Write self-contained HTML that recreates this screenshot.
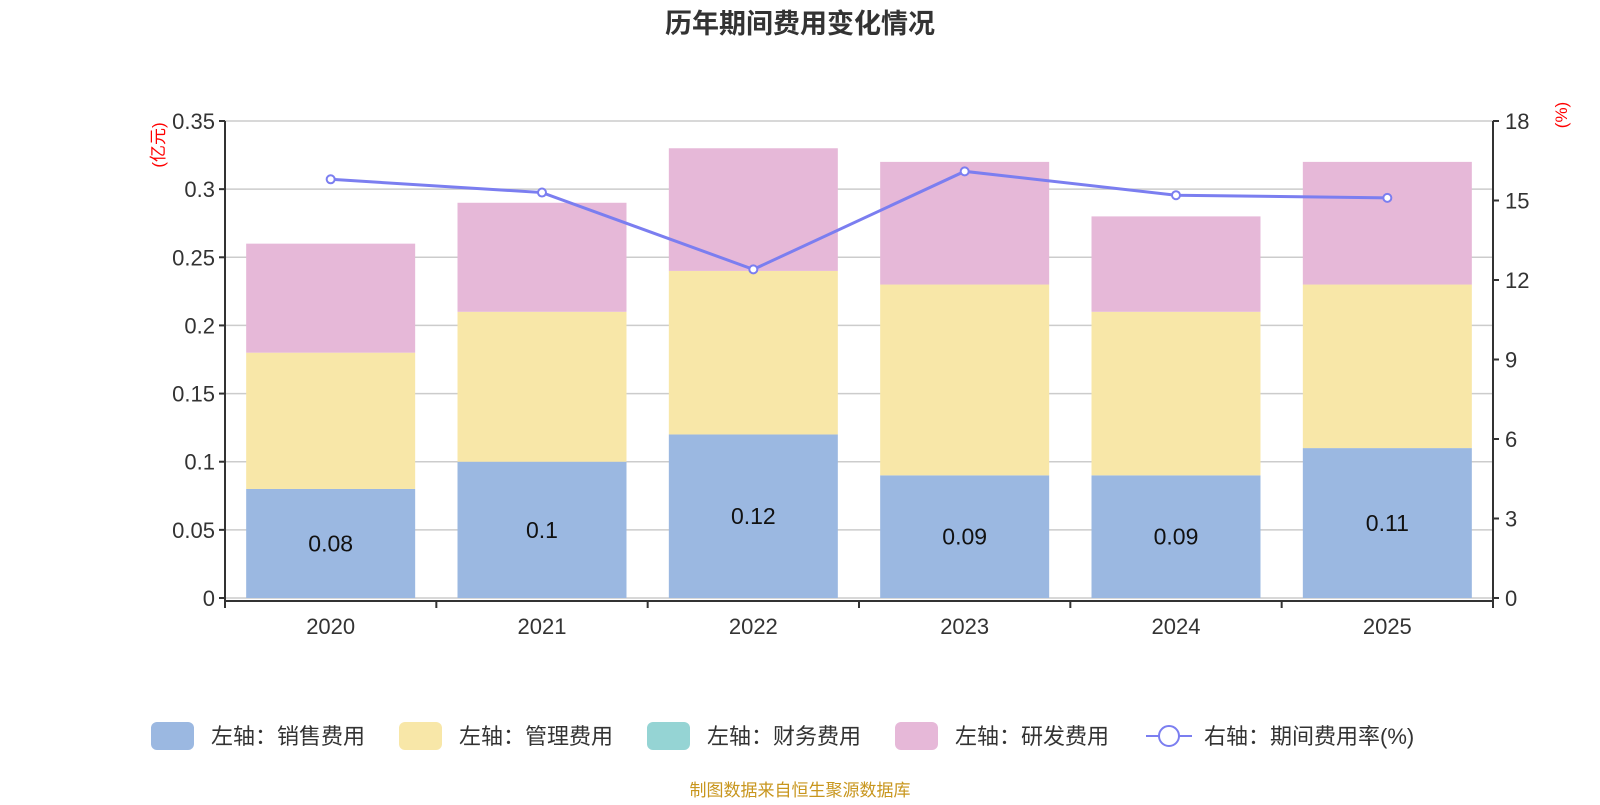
<!DOCTYPE html>
<html><head><meta charset="utf-8">
<style>
body{margin:0;background:#fff;}
svg text{font-family:"Liberation Sans","Noto Sans CJK SC",sans-serif;}
</style></head>
<body>
<svg id="chart" width="1600" height="800" xmlns="http://www.w3.org/2000/svg">
<text x="800" y="33" text-anchor="middle" font-size="27" font-weight="bold" fill="#333">历年期间费用变化情况</text>
<g id="grid"></g>
<g id="bars"></g>
<g id="line"></g>
<g id="axes"></g>
<text x="0" y="0" transform="translate(164,145) rotate(-90)" text-anchor="middle" font-size="17" fill="#f00">(亿元)</text>
<text x="0" y="0" transform="translate(1567,115) rotate(-90)" text-anchor="middle" font-size="17" fill="#f00">(%)</text>
<g id="legend"></g>
<text x="800" y="796" text-anchor="middle" font-size="17" fill="#c8961e">制图数据来自恒生聚源数据库</text>
</svg>
<script>
const categories=["2020","2021","2022","2023","2024","2025"];
const sales=[0.08,0.1,0.12,0.09,0.09,0.11];
const admin=[0.1,0.11,0.12,0.14,0.12,0.12];
const finance=[0,0,0,0,0,0];
const rnd=[0.08,0.08,0.09,0.09,0.07,0.09];
const rate=[15.8,15.3,12.4,16.1,15.2,15.1];
const leftTicks=["0","0.05","0.1","0.15","0.2","0.25","0.3","0.35"];
const rightTicks=["0","3","6","9","12","15","18"];
const NS="http://www.w3.org/2000/svg";
const X0=225,X1=1493,Y0=598,Y1=121;
const yL=v=>Y0-(v/0.35)*(Y0-Y1);
const yR=v=>Y0-(v/18)*(Y0-Y1);
const band=(X1-X0)/categories.length;
const xC=i=>X0+band*(i+0.5);
function mk(tag,attrs,parent){const e=document.createElementNS(NS,tag);for(const k in attrs)e.setAttribute(k,attrs[k]);document.getElementById(parent).appendChild(e);return e;}
leftTicks.forEach(t=>{const y=yL(+t);
 const g=mk('line',{x1:X0,x2:X1,y1:y,y2:y,stroke:'#ccc','stroke-width':1.5},'grid');
 
 
 mk('line',{x1:X0-6,x2:X0,y1:y,y2:y,stroke:'#333','stroke-width':2},'axes');
 const tx=mk('text',{x:X0-10,y:y+8,'text-anchor':'end','font-size':22,fill:'#333'},'axes');tx.textContent=t;
 
 
});
rightTicks.forEach(t=>{const y=yR(+t);
 mk('line',{x1:X1,x2:X1+6,y1:y,y2:y,stroke:'#333','stroke-width':2},'axes');
 const tx=mk('text',{x:X1+12,y:y+8,'font-size':22,fill:'#333'},'axes');tx.textContent=t;
 
 
});
mk('line',{x1:X0,x2:X0,y1:Y1,y2:Y0+3,stroke:'#333','stroke-width':2},'axes');
mk('line',{x1:X1,x2:X1,y1:Y1,y2:Y0+3,stroke:'#333','stroke-width':2},'axes');
mk('line',{x1:X0,x2:X1,y1:Y0+3,y2:Y0+3,stroke:'#333','stroke-width':2},'axes');
for(let i=0;i<=categories.length;i++){mk('line',{x1:X0+band*i,x2:X0+band*i,y1:Y0+3,y2:Y0+10,stroke:'#333','stroke-width':2},'axes');}
const bw=169;
const series=[[sales,'#9bb8e1','bar-sales'],[admin,'#f8e7a8','bar-admin'],[finance,'#95d4d4','bar-finance'],[rnd,'#e6b8d8','bar-rnd']];
categories.forEach((c,i)=>{
 let acc=0;
 series.forEach(([arr,col,nm])=>{const v=arr[i];if(v>0){const r=mk('rect',{x:xC(i)-bw/2,y:yL(acc+v),width:bw,height:yL(acc)-yL(acc+v),fill:col},'bars');
  
  }
  acc+=v;});
 const lb=mk('text',{x:xC(i),y:(yL(0)+yL(sales[i]))/2+8,'text-anchor':'middle','font-size':23,fill:'#111'},'bars');lb.textContent=sales[i];
 
 
 const cl=mk('text',{x:xC(i),y:Y0+36,'text-anchor':'middle','font-size':22,fill:'#333'},'axes');cl.textContent=c;
 
 
});
const pl=mk('polyline',{points:rate.map((v,i)=>xC(i)+','+yR(v)).join(' '),fill:'none',stroke:'#7b7ef0','stroke-width':3},'line');


rate.forEach((v,i)=>{const p=mk('circle',{cx:xC(i),cy:yR(v),r:4,fill:'#fff',stroke:'#7b7ef0','stroke-width':2},'line');
 
 });
const leg=[['左轴：销售费用','#9bb8e1'],['左轴：管理费用','#f8e7a8'],['左轴：财务费用','#95d4d4'],['左轴：研发费用','#e6b8d8']];
leg.forEach(([t,c],k)=>{const x=151+248*k;
 const r=mk('rect',{x:x,y:722,width:43,height:28,rx:6,fill:c},'legend');
 
 
 const tx=mk('text',{x:x+60,y:744,'font-size':22,fill:'#333'},'legend');tx.textContent=t;
 
 });
mk('line',{x1:1146,x2:1192,y1:736,y2:736,stroke:'#7b7ef0','stroke-width':2},'legend');
const lc=mk('circle',{cx:1169,cy:736,r:10,fill:'#fff',stroke:'#7b7ef0','stroke-width':2},'legend');


const lt=mk('text',{x:1204,y:744,'font-size':22,fill:'#333'},'legend');lt.textContent='右轴：期间费用率(%)';


</script>
</body></html>
